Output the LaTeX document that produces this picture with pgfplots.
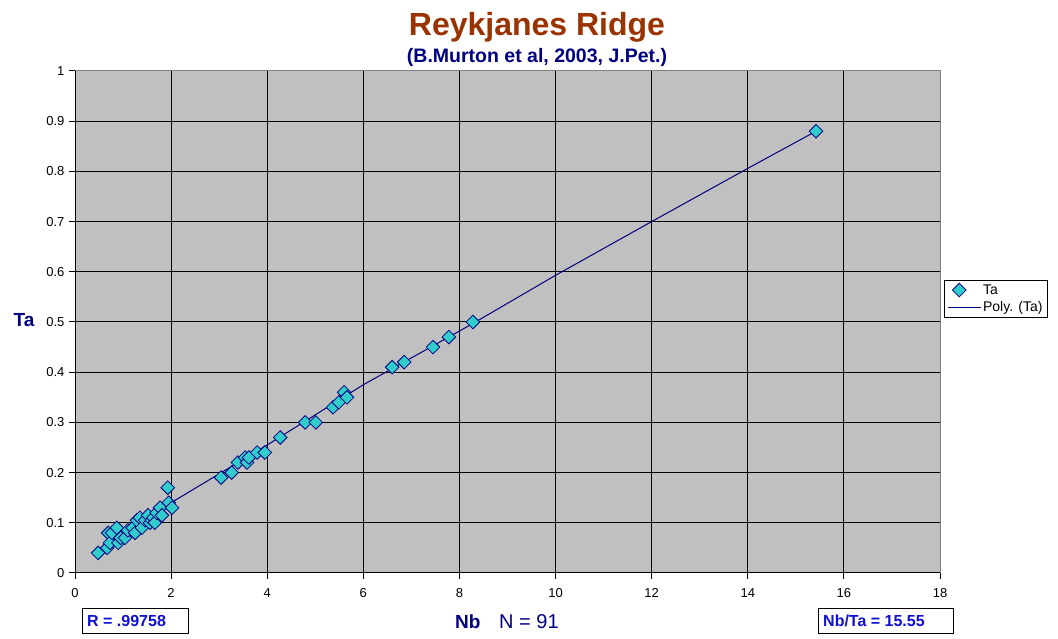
\documentclass[border=0pt]{standalone}
\usepackage{pgfplots}
\pgfplotsset{compat=1.18}
\usepackage{fontspec}
\setmainfont{Liberation Sans}
\definecolor{titlebrown}{HTML}{993300}
\definecolor{navy}{HTML}{000080}
\definecolor{boxblue}{HTML}{1010D0}
\definecolor{plotbg}{HTML}{C0C0C0}
\definecolor{bordergray}{HTML}{808080}
\definecolor{teal}{HTML}{33CCCC}
\begin{document}
\begin{tikzpicture}
\useasboundingbox (-75pt,-66pt) rectangle (983pt,573pt);
\begin{axis}[
  at={(0pt,0pt)}, anchor=south west,
  scale only axis, width=865pt, height=502pt,
  xmin=0, xmax=18, ymin=0, ymax=1,
  xtick={0,2,4,6,8,10,12,14,16,18},
  ytick={0,0.1,0.2,0.3,0.4,0.5,0.6,0.7,0.8,0.9,1},
  xtick pos=bottom, ytick pos=left,
  tick align=outside, major tick length=6pt,
  tick style={black, line width=1pt},
  grid=major, grid style={black, line width=1pt},
  axis background/.style={fill=plotbg},
  axis line style={black, line width=1pt},
  /pgf/number format/assume math mode=true,
  ticklabel style={font=\fontsize{13}{15}\selectfont},
  xticklabel style={yshift=-6pt},
  yticklabel style={xshift=-1pt},
  legend style={at={(1.0046,0.546)}, anchor=west, draw=black, fill=white,
    font=\fontsize{14}{16}\selectfont, line width=0.8pt, row sep=2pt,
    inner xsep=3pt, inner ysep=2pt},
  legend cell align=left,
]
\addplot[only marks, mark=square*, mark size=4.8pt,
  mark options={rotate=45, fill=teal, draw=navy, line width=0.8pt}]
  table {
x y
0.48 0.04
0.67 0.05
0.69 0.08
0.73 0.06
0.77 0.08
0.87 0.09
0.90 0.06
0.95 0.07
1.04 0.07
1.10 0.085
1.20 0.09
1.25 0.08
1.29 0.105
1.35 0.11
1.39 0.09
1.46 0.105
1.52 0.115
1.56 0.10
1.60 0.105
1.63 0.11
1.66 0.10
1.70 0.12
1.77 0.13
1.81 0.115
1.93 0.17
1.95 0.14
2.02 0.13
3.04 0.19
3.26 0.20
3.39 0.22
3.54 0.23
3.58 0.22
3.62 0.23
3.79 0.24
3.95 0.24
4.27 0.27
4.79 0.30
5.01 0.30
5.37 0.33
5.49 0.34
5.60 0.36
5.66 0.35
6.60 0.41
6.85 0.42
7.45 0.45
7.78 0.47
8.28 0.50
15.42 0.88
};
\addlegendentry{Ta}
\addplot[navy, line width=1pt, mark=none,
  legend image code/.code={\draw[navy, line width=1pt] (-0.1cm,0cm) -- (1.05cm,0cm);}]
  coordinates {(0.48,0.045) (2,0.14) (4,0.255) (6,0.375) (8.28,0.497) (10,0.593) (12,0.700) (14,0.806) (15.42,0.880)};
\addlegendentry{Poly. (Ta)}
\end{axis}
\draw[bordergray, line width=1pt] (0pt,502pt) -- (865pt,502pt) -- (865pt,0pt);
\node[anchor=base, inner sep=0pt, font=\fontsize{32}{38}\selectfont\bfseries, text=titlebrown] at (462pt,537pt) {Reykjanes Ridge};
\node[anchor=base, inner sep=0pt, font=\fontsize{19.5}{23}\selectfont\bfseries, text=navy] at (462pt,510pt) {(B.Murton et al, 2003, J.Pet.)};
\node[anchor=base, inner sep=0pt, font=\fontsize{19}{23}\selectfont\bfseries, text=navy] at (-51pt,246pt) {Ta};
\node[anchor=base west, inner sep=0pt, font=\fontsize{19}{23}\selectfont\bfseries, text=navy] at (380pt,-56pt) {Nb};
\node[anchor=base west, inner sep=0pt, font=\fontsize{20}{24}\selectfont, text=navy] at (424pt,-56pt) {N = 91};
\draw[black, line width=1pt, fill=white] (7pt,-36pt) rectangle (113pt,-61pt);
\node[anchor=base west, inner sep=0pt, font=\fontsize{16}{19}\selectfont\bfseries, text=boxblue] at (12pt,-54pt) {R = .99758};
\draw[black, line width=1pt, fill=white] (743pt,-36pt) rectangle (878pt,-61pt);
\node[anchor=base west, inner sep=0pt, font=\fontsize{16}{19}\selectfont\bfseries, text=boxblue] at (748pt,-54pt) {Nb/Ta = 15.55};
\end{tikzpicture}
\end{document}
